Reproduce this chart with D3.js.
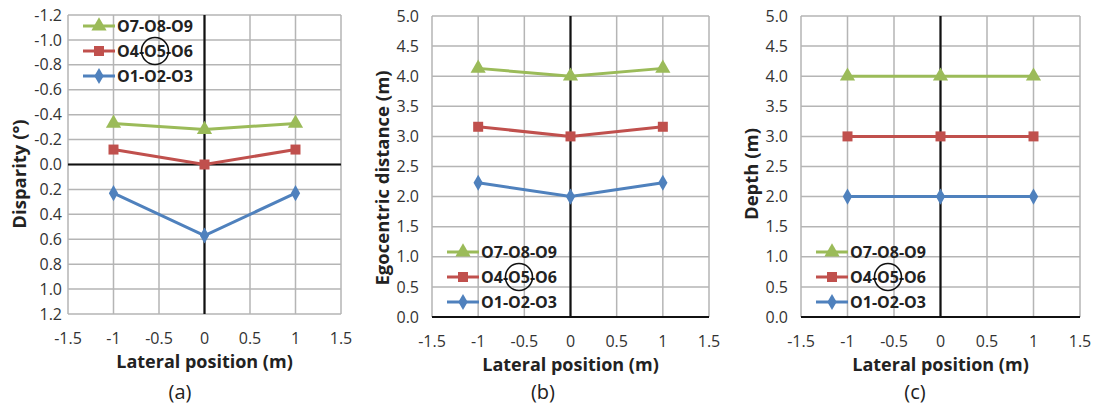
<!DOCTYPE html>
<html>
<head>
<meta charset="utf-8">
<script src="https://cdn.jsdelivr.net/npm/d3@7"></script>
<style>
  body { margin: 0; background: #fff; }
  text { font-family: "Open Sans", Lato, sans-serif; }
</style>
</head>
<body>
<svg id="chart" width="1094" height="407"></svg>
<script>
// x positions of the three observers rows (m)
const lateral = [-1, 0, 1];
const xTicks = [-1.5, -1, -0.5, 0, 0.5, 1, 1.5];
const seriesNames = ['O7-O8-O9', 'O4-O5-O6', 'O1-O2-O3'];

// (a) disparity in degrees
const disparityTop = [-0.33, -0.28, -0.33];
const disparityMid = [-0.12, 0.0, -0.12];
const disparityLow = [0.23, 0.57, 0.23];
const disparityTicks = [-1.2, -1.0, -0.8, -0.6, -0.4, -0.2, 0.0, 0.2, 0.4, 0.6, 0.8, 1.0, 1.2];

// (b) egocentric distance in m
const egoTop = [4.13, 4.0, 4.13];
const egoMid = [3.16, 3.0, 3.16];
const egoLow = [2.23, 2.0, 2.23];

// (c) depth in m
const depthTop = [4.0, 4.0, 4.0];
const depthMid = [3.0, 3.0, 3.0];
const depthLow = [2.0, 2.0, 2.0];
const distTicks = [0.0, 0.5, 1.0, 1.5, 2.0, 2.5, 3.0, 3.5, 4.0, 4.5, 5.0];

const colors = ['#9bbb59', '#c0504d', '#4f81bd'];
const symbols = [d3.symbolTriangle, d3.symbolSquare, d3.symbolDiamond];
const symbolSizes = [100, 100, 75];

const svg = d3.select('#chart');

const panels = [
  { left: 68, right: 341, top: 15, bottom: 314, domain: [-1.2, 1.2], ticks: disparityTicks,
    series: [disparityTop, disparityMid, disparityLow], tickGap: 6,
    title: 'Disparity (°)', titleX: 20, titleY: 174, caption: '(a)', captionX: 180,
    legendX: 83, legendY: 26 },
  { left: 432, right: 709, top: 16, bottom: 317, domain: [5, 0], ticks: distTicks,
    series: [egoTop, egoMid, egoLow], tickGap: 13,
    title: 'Egocentric distance (m)', titleX: 383, titleY: 178, caption: '(b)', captionX: 543,
    legendX: 447, legendY: 252 },
  { left: 801, right: 1080, top: 16, bottom: 317, domain: [5, 0], ticks: distTicks,
    series: [depthTop, depthMid, depthLow], tickGap: 13,
    title: 'Depth (m)', titleX: 752, titleY: 174, caption: '(c)', captionX: 915,
    legendX: 816, legendY: 252 }
];

panels.forEach(p => {
  const x = d3.scaleLinear().domain([-1.5, 1.5]).range([p.left, p.right]);
  const y = d3.scaleLinear().domain(p.domain).range([p.top, p.bottom]);
  const g = svg.append('g');

  // grid
  g.selectAll('.hgrid').data(p.ticks).join('line')
    .attr('x1', p.left).attr('x2', p.right)
    .attr('y1', d => y(d)).attr('y2', d => y(d))
    .attr('stroke', '#b5b5b5').attr('stroke-width', 1.5);
  g.selectAll('.vgrid').data(xTicks).join('line')
    .attr('x1', d => x(d)).attr('x2', d => x(d))
    .attr('y1', p.top).attr('y2', p.bottom)
    .attr('stroke', '#b5b5b5').attr('stroke-width', 1.5);

  // zero axes
  g.append('line')
    .attr('x1', p.left).attr('x2', p.right)
    .attr('y1', y(0)).attr('y2', y(0))
    .attr('stroke', '#111').attr('stroke-width', 2.2);
  g.append('line')
    .attr('x1', x(0)).attr('x2', x(0))
    .attr('y1', p.top).attr('y2', p.bottom)
    .attr('stroke', '#111').attr('stroke-width', 2.2);

  // y tick labels
  g.selectAll('.ylab').data(p.ticks).join('text')
    .attr('x', p.left - p.tickGap).attr('y', d => y(d))
    .attr('dy', '0.35em')
    .attr('text-anchor', 'end')
    .attr('font-size', 16)
    .attr('fill', '#333')
    .text(d => d.toFixed(1));

  // x tick labels
  g.selectAll('.xlab').data(xTicks).join('text')
    .attr('x', d => x(d)).attr('y', p.bottom + 24)
    .attr('dy', '0.35em')
    .attr('text-anchor', 'middle')
    .attr('font-size', 16)
    .attr('fill', '#333')
    .text(d => String(d));

  // axis titles
  g.append('text')
    .attr('x', x(0)).attr('y', p.bottom + 48)
    .attr('dy', '0.35em')
    .attr('text-anchor', 'middle')
    .attr('font-size', 18).attr('font-weight', 'bold')
    .attr('fill', '#222')
    .text('Lateral position (m)');
  g.append('text')
    .attr('transform', `translate(${p.titleX},${p.titleY}) rotate(-90)`)
    .attr('dy', '0.35em')
    .attr('text-anchor', 'middle')
    .attr('font-size', 18.5).attr('font-weight', 'bold')
    .attr('fill', '#222')
    .text(p.title);
  g.append('text')
    .attr('x', p.captionX).attr('y', 392)
    .attr('dy', '0.35em')
    .attr('text-anchor', 'middle')
    .attr('font-size', 20)
    .attr('fill', '#222')
    .text(p.caption);

  // series lines and markers
  const line = d3.line().x((d, i) => x(lateral[i])).y(d => y(d));
  p.series.forEach((vals, s) => {
    g.append('path')
      .attr('d', line(vals))
      .attr('fill', 'none')
      .attr('stroke', colors[s])
      .attr('stroke-width', 3);
    g.selectAll(null).data(vals).join('path')
      .attr('transform', (d, i) => `translate(${x(lateral[i])},${y(d)})`)
      .attr('d', d3.symbol().type(symbols[s]).size(symbolSizes[s]))
      .attr('fill', colors[s]);
  });

  // legend
  seriesNames.forEach((name, s) => {
    const ly = p.legendY + s * 25;
    g.append('line')
      .attr('x1', p.legendX).attr('x2', p.legendX + 32)
      .attr('y1', ly).attr('y2', ly)
      .attr('stroke', colors[s]).attr('stroke-width', 3);
    g.append('path')
      .attr('transform', `translate(${p.legendX + 16},${ly})`)
      .attr('d', d3.symbol().type(symbols[s]).size(symbolSizes[s]))
      .attr('fill', colors[s]);
    const t = g.append('text')
      .attr('x', p.legendX + 34).attr('y', ly)
      .attr('dy', '0.35em')
      .attr('font-size', 16).attr('font-weight', 'bold')
      .attr('fill', '#222')
      .text(name);
    if (s === 1) {
      const node = t.node();
      const before = node.getSubStringLength(0, 3);
      const w = node.getSubStringLength(3, 2);
      g.append('circle')
        .attr('cx', p.legendX + 34 + before + w / 2)
        .attr('cy', ly)
        .attr('r', 13.5)
        .attr('fill', 'none')
        .attr('stroke', '#111')
        .attr('stroke-width', 1.6);
    }
  });
});
</script>
</body>
</html>
